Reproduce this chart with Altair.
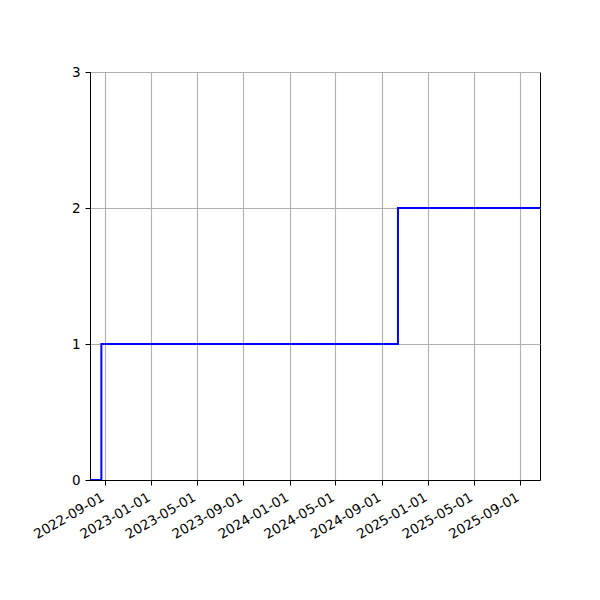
import altair as alt
import pandas as pd

dates = ["2022-07-23", "2022-08-22", "2024-10-13", "2025-10-23"]
counts = [0, 1, 2, 2]
tick_dates = ["2022-09-01", "2023-01-01", "2023-05-01", "2023-09-01", "2024-01-01",
              "2024-05-01", "2024-09-01", "2025-01-01", "2025-05-01", "2025-09-01"]
y_ticks = [0, 1, 2, 3]
x_domain = ["2022-07-23", "2025-10-23"]

df = pd.DataFrame({"date": dates, "count": counts})


def dt(s):
    y, m, d = (int(p) for p in s.split("-"))
    return alt.DateTime(year=y, month=m, date=d, utc=True)


chart = alt.Chart(df).mark_line(
    interpolate="step-after", color="#0000ff", strokeWidth=2, clip=True
).encode(
    x=alt.X("date:T",
            scale=alt.Scale(type="utc", domain=[dt(s) for s in x_domain], nice=False),
            axis=alt.Axis(values=[dt(s) for s in tick_dates], format="%Y-%m-%d",
                          labelAngle=-30, labelAlign="right", labelBaseline="top",
                          labelOverlap=False, labelBound=False, labelFlush=False,
                          labelOffset=-6, labelPadding=5,
                          title=None)),
    y=alt.Y("count:Q", scale=alt.Scale(domain=[0, 3], nice=False),
            axis=alt.Axis(values=y_ticks, format="d", title=None, labelPadding=5)),
).properties(
    width=450, height=408,
    autosize=alt.AutoSizeParams(type="none"),
    padding={"left": 82, "top": 64, "right": 52, "bottom": 112},
).configure_view(
    stroke="black", strokeWidth=1
).configure_axis(
    domainColor="black", domainWidth=1,
    tickColor="black", tickSize=5, tickWidth=1,
    labelColor="black", labelFont="DejaVu Sans", labelFontSize=13.5,
    grid=True, gridColor="#b0b0b0", gridWidth=1.1,
)

chart.save("out.html", embed_options={"renderer": "svg", "actions": False})
